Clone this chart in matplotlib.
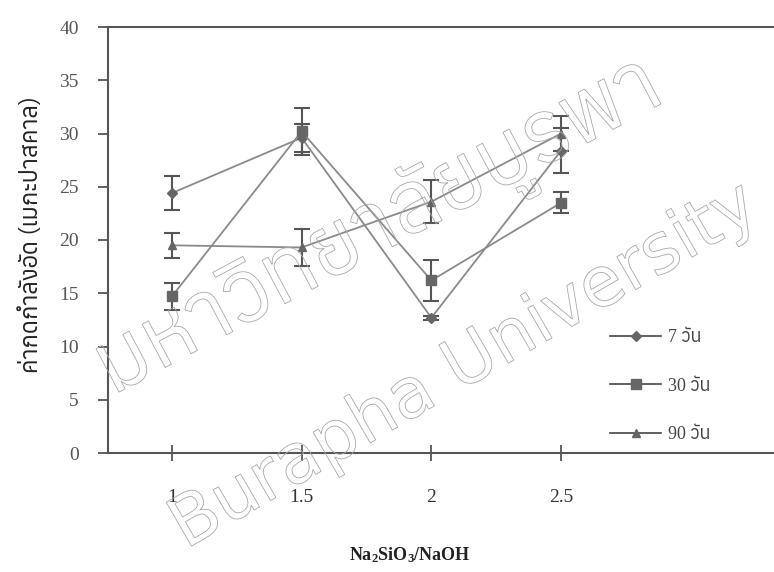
import matplotlib
matplotlib.use('Agg')
import matplotlib.pyplot as plt
from matplotlib import font_manager, patheffects
from matplotlib.ft2font import FT2Font
from matplotlib.lines import Line2D

# ratio Na2SiO3/NaOH and compressive strength (MPa)
ratio = [1, 1.5, 2, 2.5]
day7 = [24.4, 29.6, 12.7, 28.4]
day7_err = [1.6, 1.3, 0.2, 2.1]
day30 = [14.7, 30.2, 16.2, 23.5]
day30_err = [1.25, 2.2, 1.95, 1.0]
day90 = [19.5, 19.3, 23.6, 30.0]
day90_err = [1.15, 1.7, 2.0, 1.6]
labels = ['7 วัน', '30 วัน', '90 วัน']


def thai_font():
    names = []
    for f in font_manager.fontManager.ttflist:
        try:
            if 0x0E01 in FT2Font(f.fname).get_charmap():
                names.append(f.name)
        except Exception:
            pass
    return sorted(set(names))


thai = thai_font()
serif = ['Liberation Serif'] + thai[:1] + ['DejaVu Sans']

plt.rcParams['mathtext.fontset'] = 'custom'
plt.rcParams['mathtext.bf'] = 'Liberation Serif:bold'
plt.rcParams['mathtext.rm'] = 'Liberation Serif'

fig = plt.figure(figsize=(7.74, 5.72), dpi=100)
ax = fig.add_axes([108 / 774, 1 - 453 / 572, 1 - 108 / 774, 426 / 572])

# watermark
wm = [patheffects.PathPatchEffect(facecolor='none', edgecolor='#a8a8a8', linewidth=0.6)]
fig.text(0.49, 0.6, 'มหาวิทยาลัยบูรพา', rotation=28, fontsize=62, ha='center',
         va='center', family=thai[:1] + ['DejaVu Sans'], color='none', path_effects=wm, zorder=0)
fig.text(0.6, 0.36, 'Burapha University', rotation=30, fontsize=50, ha='center',
         va='center', family='DejaVu Sans', color='none', path_effects=wm, zorder=0)

line_c = '#8a8a8a'
mark_c = '#666666'
series = [(day7, day7_err, 'D', 5), (day30, day30_err, 's', 7), (day90, day90_err, '^', 6)]
handles = []
for (y, e, m, ms), lab in zip(series, labels):
    ax.errorbar(ratio, y, yerr=e, color=line_c, lw=1.3, marker=m, ms=ms,
                mfc=mark_c, mec=mark_c, ecolor='#555555', elinewidth=1.5,
                capsize=6, capthick=1.5)
    handles.append(Line2D([], [], color='#444444', lw=1.2, marker=m, ms=ms,
                          mfc=mark_c, mec=mark_c))

ax.set_xlim(0.754, 3.32)
ax.set_ylim(0, 40)
ax.set_xticks(ratio)
ax.set_xticklabels(['1', '1.5', '2', '2.5'])
ax.set_yticks(range(0, 41, 5))
ax.spines['right'].set_visible(False)
for s in ['left', 'bottom', 'top']:
    ax.spines[s].set_color('#555555')
    ax.spines[s].set_linewidth(1.5)
ax.tick_params(axis='y', direction='out', length=7, width=1.3, color='#555555',
               labelsize=14, labelcolor='#555555', pad=14)
ax.tick_params(axis='x', direction='inout', length=12, width=1.3, color='#555555',
               labelsize=14, labelcolor='#333333', pad=20)
for t in ax.get_xticklabels() + ax.get_yticklabels():
    t.set_family(serif)

fig.text(0.04, 0.59, 'ค่ากดกำลังอัด (เมกะปาสคาล)', family=thai[:1] + ['DejaVu Sans'],
         fontsize=17, fontweight='bold', color='#222222', rotation=90,
         ha='center', va='center')
fig.text(0.53, 0.03, r'$\mathbf{Na_2SiO_3/NaOH}$', fontsize=13, color='#222222',
         ha='center', va='center')

leg = ax.legend(handles, labels, loc='lower left', bbox_to_anchor=(0.73, -0.015),
                frameon=False, labelspacing=1.75, handlelength=2.8, handletextpad=0.4,
                prop={'family': serif, 'size': 13})
for t in leg.get_texts():
    t.set_color('#444444')

fig.savefig('out.png', dpi=100)
